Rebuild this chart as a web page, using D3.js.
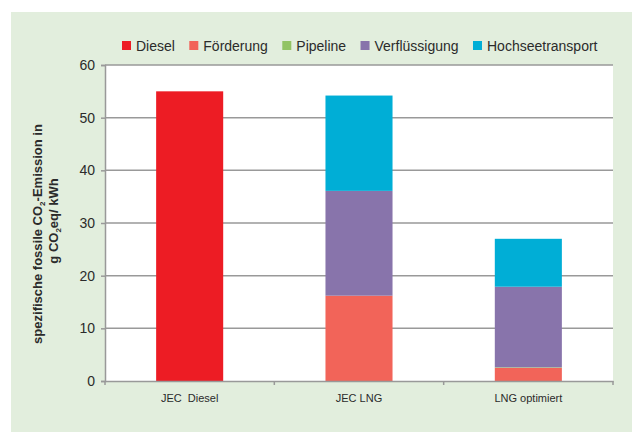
<!DOCTYPE html>
<html>
<head>
<meta charset="utf-8">
<script src="https://cdn.jsdelivr.net/npm/d3@7"></script>
<style>
  html, body { margin: 0; padding: 0; background: #ffffff; }
  svg { display: block; font-family: "Liberation Sans", Arial, sans-serif; }
</style>
</head>
<body>
<svg id="chart" width="632" height="432"></svg>
<script>
const categories = ["JEC  Diesel", "JEC LNG", "LNG optimiert"];
const seriesNames = ["Diesel", "Förderung", "Pipeline", "Verflüssigung", "Hochseetransport"];
const seriesColors = ["#ED1C24", "#F26459", "#92C464", "#8874AB", "#00AED6"];
const diesel = [55, 0, 0];
const foerderung = [0, 16.2, 2.5];
const pipeline = [0, 0, 0.1];
const verfluessigung = [0, 19.9, 15.3];
const hochseetransport = [0, 18.1, 9.1];
const yTicks = [0, 10, 20, 30, 40, 50, 60];

const seriesValues = [diesel, foerderung, pipeline, verfluessigung, hochseetransport];

const svg = d3.select("#chart");
const W = 632, H = 432;
const pLeft = 105, pRight = 613, pTop = 65, pBottom = 381;

// panel background
svg.append("rect").attr("x", 11).attr("y", 12).attr("width", W - 11).attr("height", H - 12)
  .attr("fill", "#E2EEDD");
// plot area
svg.append("rect").attr("x", pLeft).attr("y", pTop).attr("width", pRight - pLeft).attr("height", pBottom - pTop)
  .attr("fill", "#ffffff");

const y = d3.scaleLinear().domain([0, 60]).range([pBottom, pTop]);
const x = d3.scaleBand().domain(categories).range([pLeft, pRight]).padding(0);
const barFrac = 0.396;

// gridlines
svg.append("g").selectAll("line").data(yTicks.filter(d => d > 0)).join("line")
  .attr("x1", pLeft).attr("x2", pRight)
  .attr("y1", d => y(d)).attr("y2", d => y(d))
  .attr("stroke", "#999999").attr("stroke-width", 1.5);

// stacked data
const table = categories.map((c, i) => {
  const o = { cat: c };
  seriesNames.forEach((s, j) => o[s] = seriesValues[j][i]);
  return o;
});
const stack = d3.stack().keys(seriesNames)(table);

const bw = x.bandwidth() * barFrac;
svg.append("g").selectAll("g").data(stack).join("g")
  .attr("fill", (d, i) => seriesColors[i])
  .selectAll("rect").data(d => d).join("rect")
  .attr("x", d => x(d.data.cat) + (x.bandwidth() - bw) / 2)
  .attr("width", bw)
  .attr("y", d => y(d[1]))
  .attr("height", d => Math.max(0, y(d[0]) - y(d[1])));

// y axis
const yAxis = d3.axisLeft(y).tickValues(yTicks).tickSize(4).tickPadding(6).tickFormat(d3.format("d"));
const gy = svg.append("g").attr("transform", `translate(${pLeft},0)`).call(yAxis);
gy.select(".domain").attr("stroke", "#999999").attr("stroke-width", 1.5);
gy.selectAll(".tick line").attr("stroke", "#999999").attr("stroke-width", 1.5);
gy.selectAll(".tick text").attr("font-size", 14).attr("fill", "#2b2b2b")
  .attr("font-family", "Liberation Sans, Arial, sans-serif");

// x axis
const xAxis = d3.axisBottom(x).tickSize(0).tickPadding(13);
const gx = svg.append("g").attr("transform", `translate(0,${pBottom})`).call(xAxis);
gx.select(".domain").attr("stroke", "#999999").attr("stroke-width", 1.5);
gx.selectAll(".tick text").attr("font-size", 11).attr("fill", "#2b2b2b")
  .style("white-space", "pre")
  .attr("font-family", "Liberation Sans, Arial, sans-serif");
// category boundary ticks
const bounds = categories.map(c => x(c)).concat([x(categories[categories.length - 1]) + x.bandwidth()]);
svg.append("g").selectAll("line").data(bounds).join("line")
  .attr("x1", d => d).attr("x2", d => d)
  .attr("y1", pBottom).attr("y2", pBottom + 4)
  .attr("stroke", "#999999").attr("stroke-width", 1.5);

// y axis title
const t = svg.append("text")
  .attr("transform", "translate(42,234) rotate(-90)")
  .attr("text-anchor", "middle")
  .attr("font-size", 13).attr("font-weight", "bold").attr("fill", "#2b2b2b");
t.append("tspan").text("spezifische fossile CO");
t.append("tspan").attr("font-size", 8).attr("dy", 3).text("2");
t.append("tspan").attr("dy", -3).text("-Emission in");
const t2 = svg.append("text")
  .attr("transform", "translate(58,221) rotate(-90)")
  .attr("text-anchor", "middle")
  .attr("font-size", 13).attr("font-weight", "bold").attr("fill", "#2b2b2b");
t2.append("tspan").text("g CO");
t2.append("tspan").attr("font-size", 8).attr("dy", 3).text("2");
t2.append("tspan").attr("dy", -3).text("eq/ kWh");

// legend
const legend = svg.append("g");
let lx = 122;
seriesNames.forEach((s, i) => {
  legend.append("rect").attr("x", lx).attr("y", 41).attr("width", 9).attr("height", 9)
    .attr("fill", seriesColors[i]);
  const tx = legend.append("text").attr("x", lx + 14).attr("y", 50.5)
    .attr("font-size", 14).attr("fill", "#2b2b2b").text(s);
  lx += 14 + tx.node().getComputedTextLength() + 14.4;
});
</script>
</body>
</html>
